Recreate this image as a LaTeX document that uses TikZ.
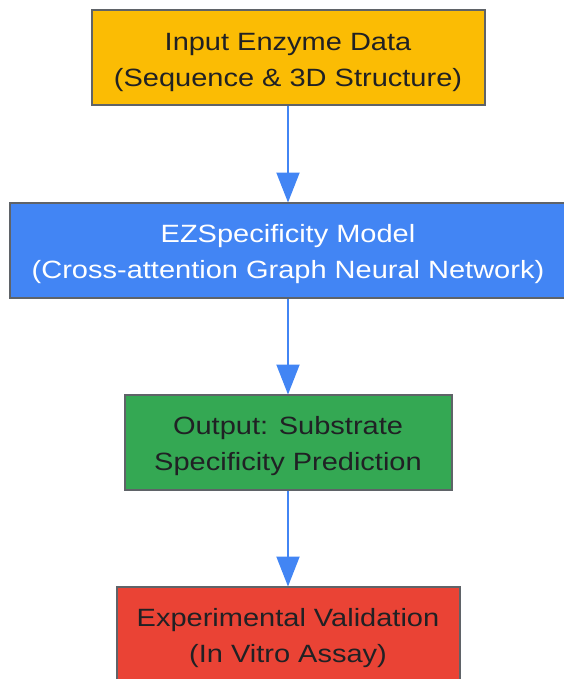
\documentclass[tikz,border=0pt]{standalone}
\usepackage{fontspec}
\setmainfont{Liberation Sans}[FakeStretch=1.16]
\usetikzlibrary{arrows.meta}
\definecolor{gyellow}{HTML}{FBBC04}
\definecolor{gblue}{HTML}{4285F4}
\definecolor{ggreen}{HTML}{34A853}
\definecolor{gred}{HTML}{EA4335}
\definecolor{gborder}{HTML}{5F6368}
\definecolor{gtext}{HTML}{202124}
\begin{document}
\begin{tikzpicture}[x=1pt,y=-1pt,
  flowbox/.style={draw=gborder, line width=2pt, rectangle, inner sep=0pt, minimum height=95pt},
  boxtext/.style={align=center, text=gtext, font=\fontsize{25}{36}\selectfont, inner sep=0pt},
  flowarrow/.style={draw=gblue, line width=2pt,
    -{Triangle[length=30pt,width=23pt]}, shorten >=-1pt}]
\useasboundingbox (0,0) rectangle (563,679);
\node[flowbox, fill=gyellow, minimum width=393pt] (inp) at (288,58) {};
\node[boxtext] (inpt) at (288,62) {Input Enzyme Data\\(Sequence \& 3D Structure)};
\node[flowbox, fill=gblue, minimum width=557pt] (mod) at (288,250) {};
\node[boxtext, text=white] (modt) at (288,254) {EZSpecificity Model\\(Cross-attention Graph Neural Network)};
\node[flowbox, fill=ggreen, minimum width=327pt] (out) at (288,442) {};
\node[boxtext] (outt) at (288,446) {Output: Substrate\\Specificity Prediction};
\node[flowbox, fill=gred, minimum width=343pt] (val) at (288,634) {};
\node[boxtext] (valt) at (288,638) {Experimental Validation\\(In Vitro Assay)};
\draw[flowarrow] (inp.south) -- (mod.north);
\draw[flowarrow] (mod.south) -- (out.north);
\draw[flowarrow] (out.south) -- (val.north);
\end{tikzpicture}
\end{document}
